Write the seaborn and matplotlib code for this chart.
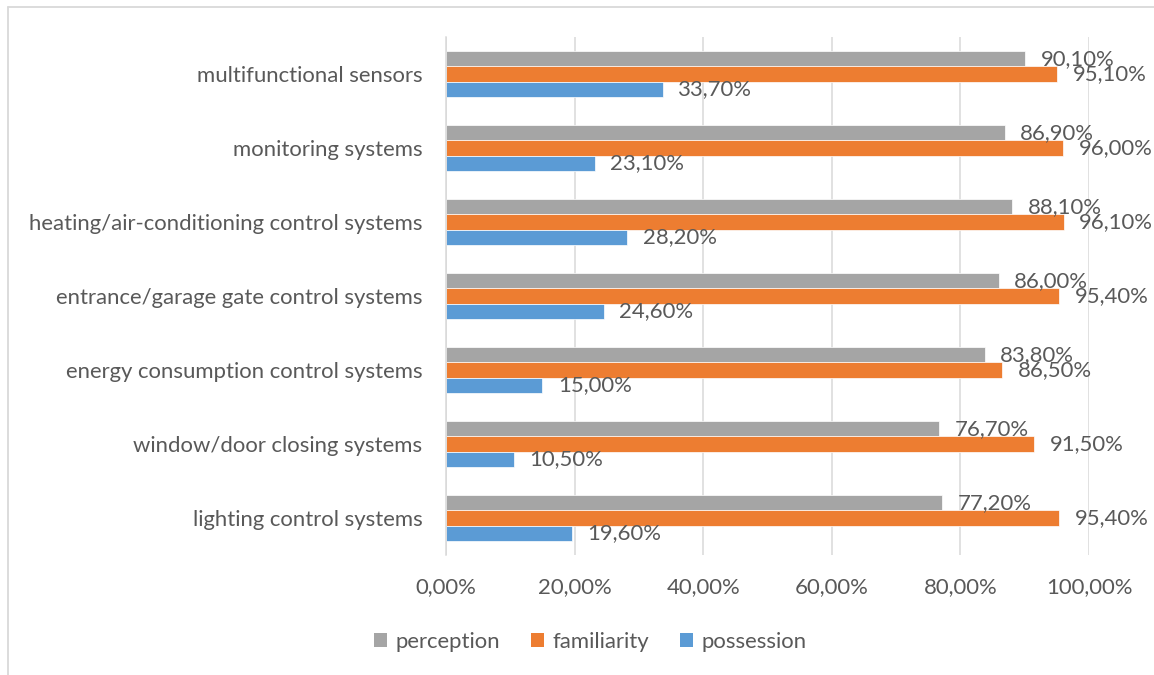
import matplotlib
matplotlib.use("Agg")
import matplotlib.pyplot as plt
from matplotlib.lines import Line2D
from matplotlib.ticker import FuncFormatter
import seaborn as sns
import pandas as pd

categories = [
    "multifunctional sensors",
    "monitoring systems",
    "heating/air-conditioning control systems",
    "entrance/garage gate control systems",
    "energy consumption control systems",
    "window/door closing systems",
    "lighting control systems",
]
series_names = ["perception", "familiarity", "possession"]
perception = [90.1, 86.9, 88.1, 86.0, 83.8, 76.7, 77.2]
familiarity = [95.1, 96.0, 96.1, 95.4, 86.5, 91.5, 95.4]
possession = [33.7, 23.1, 28.2, 24.6, 15.0, 10.5, 19.6]
x_ticks = [0, 20, 40, 60, 80, 100]

colors = {"perception": "#A5A5A5", "familiarity": "#ED7D31", "possession": "#5B9BD5"}
series_values = {"perception": perception, "familiarity": familiarity, "possession": possession}

rows = []
for s in series_names:
    for c, v in zip(categories, series_values[s]):
        rows.append({"category": c, "series": s, "value": v})
df = pd.DataFrame(rows)

sns.set_theme(style="white")
plt.rcParams["font.family"] = ["Lato", "DejaVu Sans"]
text_color = "#595959"
fs = 15.9

fig = plt.figure(figsize=(11.54, 6.75), dpi=100)
ax = fig.add_axes([446 / 1154, 1 - 555 / 675, (1089 - 446) / 1154, (555 - 37) / 675])

sns.barplot(data=df, y="category", x="value", hue="series", order=categories,
            hue_order=series_names, palette=colors, saturation=1, orient="h",
            width=0.62, gap=0, linewidth=0.5, edgecolor="white", ax=ax, legend=True)

for cont, s in zip(ax.containers, series_names):
    labels = [f"{v:.2f}%".replace(".", ",") for v in series_values[s]]
    ax.bar_label(cont, labels=labels, padding=11, fontsize=fs, color=text_color)

ax.set_xlim(0, 100)
ax.set_xticks(x_ticks)
ax.xaxis.set_major_formatter(FuncFormatter(lambda v, p: f"{v:.2f}%".replace(".", ",")))
ax.set_xlabel("")
ax.set_ylabel("")
ax.grid(axis="x", color="#d9d9d9", linewidth=1.1)
ax.grid(axis="y", visible=False)
ax.set_axisbelow(True)
for side in ["top", "right", "bottom"]:
    ax.spines[side].set_visible(False)
ax.spines["left"].set_color("#d9d9d9")
ax.spines["left"].set_linewidth(1.1)
ax.tick_params(axis="both", length=0, labelsize=fs, labelcolor=text_color)
ax.tick_params(axis="x", pad=16)
ax.tick_params(axis="y", pad=17)

leg = ax.legend(loc="center", bbox_to_anchor=(590 / 1154, 1 - 642 / 675),
                bbox_transform=fig.transFigure, ncol=3, frameon=False,
                fontsize=fs, handlelength=0.62, handleheight=0.62,
                handletextpad=0.35, columnspacing=1.4, labelcolor=text_color)
for h in leg.legend_handles:
    h.set_edgecolor("none")

border_color = "#d9d9d9"
fig.add_artist(Line2D([8 / 1154, 8 / 1154], [0, 1 - 7 / 675], transform=fig.transFigure,
                      color=border_color, linewidth=1.3))
fig.add_artist(Line2D([8 / 1154, 1], [1 - 7 / 675, 1 - 7 / 675], transform=fig.transFigure,
                      color=border_color, linewidth=1.3))

fig.savefig("out.png", dpi=100, facecolor="white")
